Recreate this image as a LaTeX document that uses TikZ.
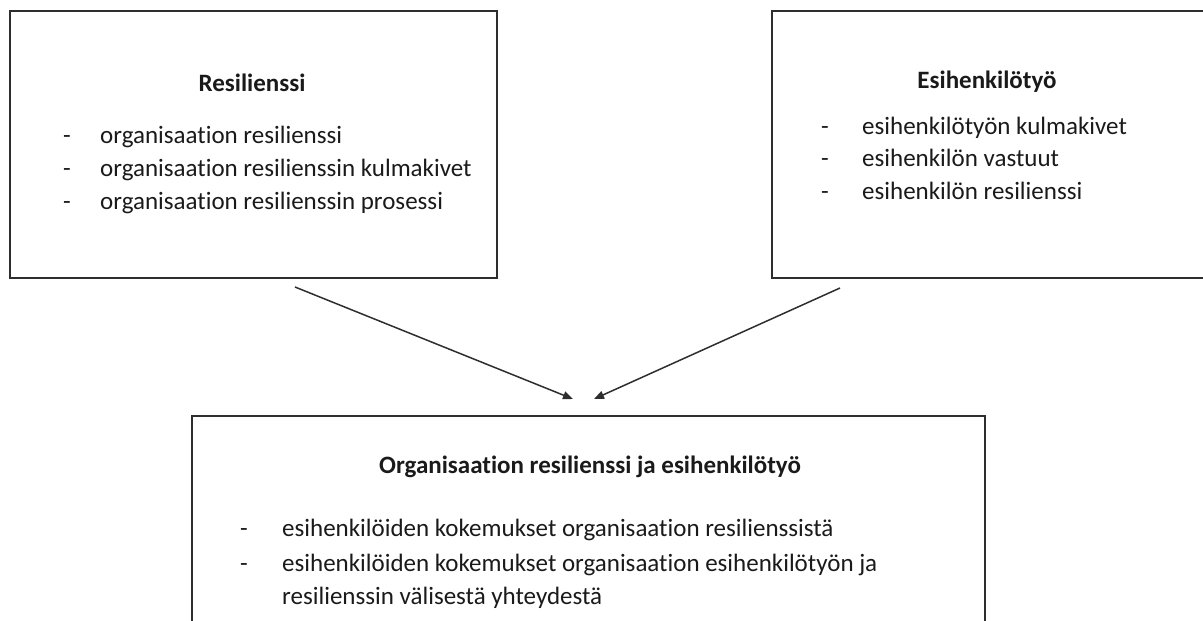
\documentclass[tikz,border=0pt]{standalone}
\usepackage{fontspec}
\setmainfont{Carlito}[Ligatures=NoCommon]
\usepackage{tikz}
\usetikzlibrary{
  arrows.meta,
  positioning
}
\definecolor{BoxLine}{HTML}{2E2E2E}
\definecolor{TextGrey}{HTML}{1A1A1A}

\begin{document}
\begin{tikzpicture}[
    x=1pt, y=-1pt,
    every node/.style={font=\fontsize{25}{33}\selectfont, inner sep=0pt, text=TextGrey},
    box/.style={draw=BoxLine, line width=1.6pt, anchor=north west},
    head/.style={anchor=base, font=\fontsize{25}{33}\selectfont\bfseries},
    item/.style={anchor=base west},
    flow/.style={BoxLine, line width=1.5pt, -{Triangle[length=10pt,width=8pt]}}
  ]
    \useasboundingbox (0,0) rectangle (1203,621);
    \clip (0,0) rectangle (1203,621);
    % boxes
    \node[box, minimum width=487pt, minimum height=267pt] (resBox) at (9,10) {};
    \node[box, minimum width=436pt, minimum height=267pt] (esiBox) at (771,10) {};
    \node[box, minimum width=793pt, minimum height=300pt] (orgBox) at (191,415) {};
    % headings
    \node[head] (resHead) at (252,91) {Resilienssi};
    \node[head] (esiHead) at (987,88) {Esihenkilötyö};
    \node[head] (orgHead) at (590,473) {Organisaation resilienssi ja esihenkilötyö};
    % left list
    \foreach \y/\txt [count=\i] in {
      143/organisaation resilienssi,
      176/organisaation resilienssin kulmakivet,
      209/organisaation resilienssin prosessi
    }{
      \node[anchor=base] (resDash\i) at (67,\y) {-};
      \node[item] (resItem\i) at (100,\y) {\txt};
    }
    % right list
    \foreach \y/\txt [count=\i] in {
      134/esihenkilötyön kulmakivet,
      166/esihenkilön vastuut,
      199/esihenkilön resilienssi
    }{
      \node[anchor=base] (esiDash\i) at (825,\y) {-};
      \node[item] (esiItem\i) at (862,\y) {\txt};
    }
    % bottom list
    \node[anchor=base] (orgDash1) at (244,536) {-};
    \node[item] (orgItem1) at (282,536) {esihenkilöiden kokemukset organisaation resilienssistä};
    \node[anchor=base] (orgDash2) at (244,571) {-};
    \node[item] (orgItem2) at (282,571) {esihenkilöiden kokemukset organisaation esihenkilötyön ja};
    \node[item] (orgItem3) at (282,604) {resilienssin välisestä yhteydestä};
    % arrows
    \coordinate (resOut) at (295,287);
    \coordinate (esiOut) at (840,288);
    \coordinate (orgInL) at (573,399);
    \coordinate (orgInR) at (594,399);
    \draw[flow] (resOut) -- (orgInL);
    \draw[flow] (esiOut) -- (orgInR);
  \end{tikzpicture}
\end{document}
